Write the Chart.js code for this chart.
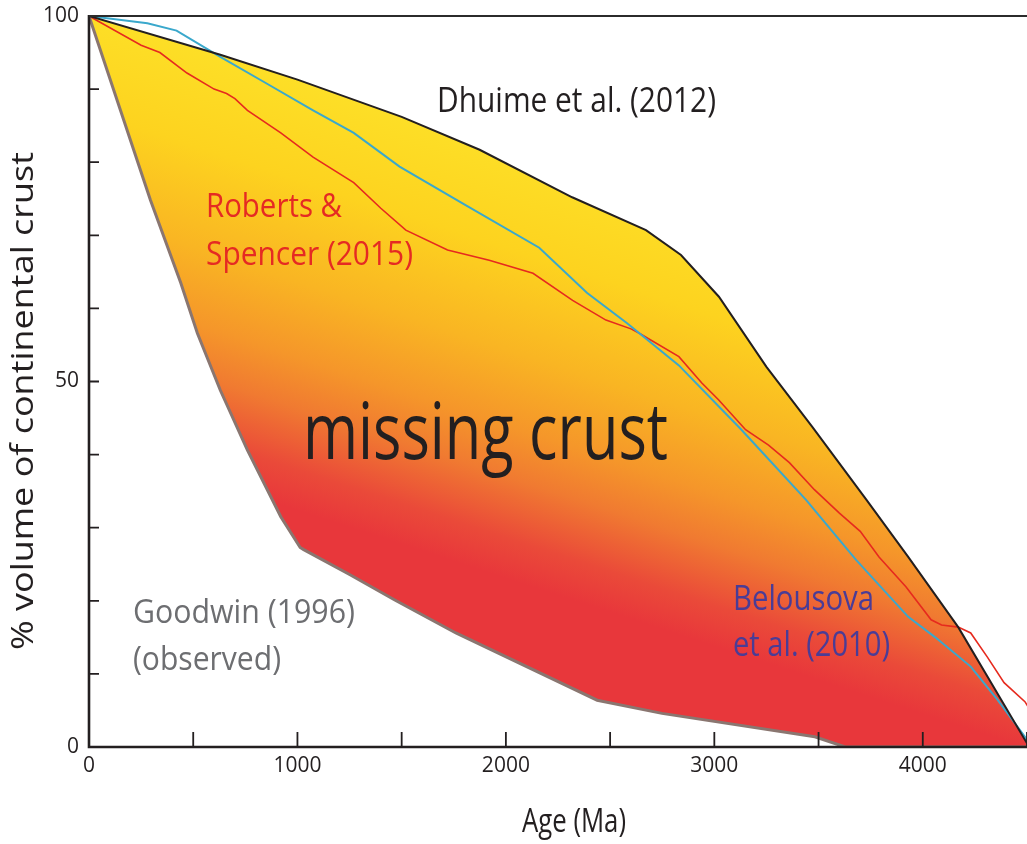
<!DOCTYPE html>
<html>
<head>
<meta charset="utf-8">
<script src="https://cdn.jsdelivr.net/npm/chart.js@4.4.0/dist/chart.umd.min.js"></script>
<style>
  html, body { margin: 0; padding: 0; background: #fff; }
  #contenedor { width: 1027px; height: 844px; }
</style>
</head>
<body>
<div id="contenedor"><canvas id="grafico" width="1027" height="844"></canvas></div>
<script>
// Datos: edad (Ma) y % de volumen de corteza continental
const edadDhuime = [0, 630, 1000, 1500, 1874, 2318, 2672, 2840, 3022, 3250, 3470, 3730, 3930, 4170, 4500];
const volDhuime = [100, 94.7, 91.3, 86.2, 81.7, 75.2, 70.7, 67.3, 61.6, 52, 43.8, 33.8, 26, 16.4, 0.5];

const edadGoodwin = [0, 295, 440, 520, 630, 760, 920, 1013, 1030, 1250, 1467, 1760, 2438, 2749, 3482, 3628, 4500];
const volGoodwin = [100, 74.8, 63.5, 56.6, 48.8, 40.6, 31.5, 27.3, 27, 23.6, 20.1, 15.6, 6.4, 4.6, 1.4, 0, 0];

const edadBelousova = [0, 280, 420, 630, 850, 1075, 1270, 1490, 1790, 2160, 2390, 2580, 2830, 3130, 3440, 3680, 3930, 4060, 4230, 4360, 4490, 4500];
const volBelousova = [100, 99, 98, 94.4, 90.8, 87.1, 84, 79.4, 74.4, 68.3, 62.1, 58, 52.2, 43.4, 33.8, 25.6, 17.8, 15, 11, 6.4, 1.4, 0.8];

const edadRoberts = [0, 250, 340, 470, 600, 660, 700, 760, 920, 1075, 1270, 1400, 1520, 1720, 1920, 2130, 2320, 2480, 2600, 2640, 2830, 2940, 3020, 3150, 3260, 3360, 3480, 3600, 3700, 3790, 3920, 4040, 4090, 4170, 4230, 4310, 4390, 4490, 4560];
const volRoberts = [100, 96, 95, 92.2, 90, 89.4, 88.7, 87.1, 84, 80.7, 77.2, 73.7, 70.7, 68, 66.6, 64.8, 61.1, 58.4, 57.2, 56.6, 53.4, 49.8, 47.5, 43.4, 41.3, 38.9, 35.2, 32, 29.5, 26, 21.9, 17.4, 16.7, 16.4, 15.6, 12.3, 8.8, 6.2, 3];

// Ejes
const ticksX = [0, 1000, 2000, 3000, 4000];
const ticksY = [0, 50, 100];

function puntos(xs, ys) {
    return xs.map((x, i) => ({ x: x, y: ys[i] }));
}

// Degradado amarillo -> rojo para la "corteza perdida"
function degradado(context) {
    const chart = context.chart;
    if (!chart.chartArea) return 'rgba(0,0,0,0)';
    const g = chart.ctx.createLinearGradient(600, 100, 450, 560);
    g.addColorStop(0, '#fde82d');
    g.addColorStop(0.35, '#fdd31f');
    g.addColorStop(0.55, '#f9b523');
    g.addColorStop(0.7, '#f5962a');
    g.addColorStop(0.8, '#f07a31');
    g.addColorStop(0.92, '#ea4a39');
    g.addColorStop(1, '#e8373b');
    return g;
}

// Texto comprimido horizontalmente para imitar una tipografia estrecha
function texto(ctx, str, x, y, size, ancho, color) {
    ctx.save();
    ctx.font = size + 'px "Open Sans"';
    const w = ctx.measureText(str).width;
    ctx.translate(x, y);
    ctx.scale(ancho / w, 1);
    ctx.fillStyle = color;
    ctx.textBaseline = 'alphabetic';
    ctx.textAlign = 'left';
    ctx.fillText(str, 0, 0);
    ctx.restore();
}

const decoracion = {
    id: 'decoracion',
    afterDraw(chart) {
        const ctx = chart.ctx;
        const a = chart.chartArea;
        const sx = chart.scales.x;
        const sy = chart.scales.y;
        ctx.save();
        ctx.strokeStyle = '#231f20';
        ctx.lineCap = 'butt';

        // marcas hacia dentro
        ctx.lineWidth = 1.8;
        ctx.beginPath();
        sy.ticks.forEach(t => {
            const py = sy.getPixelForValue(t.value);
            ctx.moveTo(a.left, py);
            ctx.lineTo(a.left + 10, py);
        });
        sx.ticks.forEach(t => {
            const px = sx.getPixelForValue(t.value);
            ctx.moveTo(px, a.bottom);
            ctx.lineTo(px, a.bottom - 15);
        });
        ctx.stroke();

        // marco: izquierda, abajo y arriba
        ctx.lineWidth = 2.6;
        ctx.beginPath();
        ctx.moveTo(a.left, a.top - 1);
        ctx.lineTo(a.left, a.bottom);
        ctx.lineTo(chart.width, a.bottom);
        ctx.stroke();
        ctx.lineWidth = 2;
        ctx.strokeStyle = '#2b2b2b';
        ctx.beginPath();
        ctx.moveTo(a.left, a.top);
        ctx.lineTo(chart.width, a.top);
        ctx.stroke();
        ctx.restore();

        // titulos de los ejes
        texto(ctx, 'Age (Ma)', 522, 832, 33, 104, '#231f20');
        ctx.save();
        ctx.translate(33, 650);
        ctx.rotate(-Math.PI / 2);
        texto(ctx, '% volume of continental crust', 0, 0, 31, 498, '#231f20');
        ctx.restore();

        // etiquetas dentro del grafico
        texto(ctx, 'Dhuime et al. (2012)', 437, 112, 34, 279, '#231f20');
        texto(ctx, 'Roberts &', 206, 217, 33, 136, '#e52a23');
        texto(ctx, 'Spencer (2015)', 206, 265, 33, 207, '#e52a23');
        texto(ctx, 'missing crust', 303, 459, 78, 365, '#231f20');
        texto(ctx, 'Goodwin (1996)', 133, 623, 33, 222, '#6d6e71');
        texto(ctx, '(observed)', 133, 670, 33, 148, '#6d6e71');
        texto(ctx, 'Belousova', 733, 610, 34, 141, '#4a3c96');
        texto(ctx, 'et al. (2010)', 733, 656, 34, 157, '#4a3c96');
    }
};

const ctx = document.getElementById('grafico').getContext('2d');
const grafico = new Chart(ctx, {
    type: 'line',
    data: {
        datasets: [
            {
                label: 'Dhuime et al. (2012)',
                data: puntos(edadDhuime, volDhuime),
                borderColor: '#231f20',
                borderWidth: 2,
                fill: false
            },
            {
                label: 'Goodwin (1996)',
                data: puntos(edadGoodwin, volGoodwin),
                borderColor: '#8a7670',
                borderWidth: 3,
                backgroundColor: degradado,
                fill: '-1'
            },
            {
                label: 'Belousova et al. (2010)',
                data: puntos(edadBelousova, volBelousova),
                borderColor: '#3aa8cc',
                borderWidth: 2,
                fill: false
            },
            {
                label: 'Roberts & Spencer (2015)',
                data: puntos(edadRoberts, volRoberts),
                borderColor: '#e62a1e',
                borderWidth: 1.6,
                fill: false
            }
        ]
    },
    options: {
        responsive: false,
        animation: false,
        layout: { padding: { top: 16, right: 0, left: 0, bottom: 0 } },
        elements: { point: { radius: 0 }, line: { tension: 0 } },
        plugins: {
            legend: { display: false },
            tooltip: { enabled: false },
            filler: { drawTime: 'beforeDatasetsDraw' }
        },
        scales: {
            x: {
                type: 'linear',
                min: 0,
                max: 4500,
                afterFit: s => { s.height = 97; s.paddingRight = 0; s.paddingLeft = 0; },
                grid: { display: false, drawTicks: false },
                border: { display: false },
                ticks: {
                    stepSize: 500,
                    autoSkip: false,
                    maxRotation: 0,
                    padding: 6,
                    color: '#231f20',
                    font: { family: 'Open Sans', size: 21 },
                    callback: v => ticksX.includes(v) ? String(v) : ''
                }
            },
            y: {
                type: 'linear',
                min: 0,
                max: 100,
                afterFit: s => { s.width = 89; s.paddingTop = 0; s.paddingBottom = 0; },
                grid: { display: false, drawTicks: false },
                border: { display: false },
                ticks: {
                    stepSize: 10,
                    autoSkip: false,
                    padding: 10,
                    color: '#231f20',
                    font: { family: 'Open Sans', size: 21 },
                    callback: v => ticksY.includes(v) ? String(v) : ''
                }
            }
        }
    },
    plugins: [decoracion]
});
</script>
</body>
</html>
